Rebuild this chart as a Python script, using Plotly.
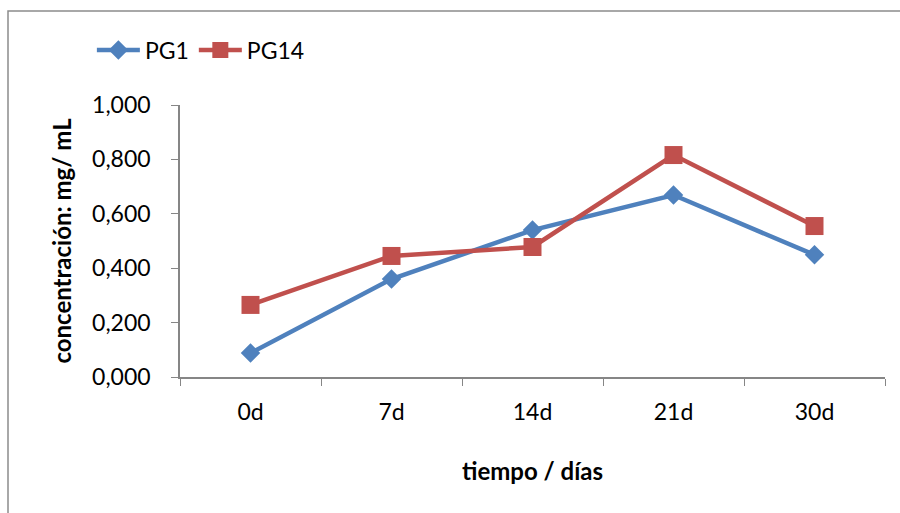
import plotly.graph_objects as go

categories = ["0d", "7d", "14d", "21d", "30d"]
pg1 = [0.088, 0.360, 0.540, 0.669, 0.449]
pg14 = [0.265, 0.445, 0.478, 0.816, 0.555]
y_ticks = [0, 0.2, 0.4, 0.6, 0.8, 1.0]

FONT = "Lato"
fig = go.Figure()
fig.add_trace(go.Scatter(x=categories, y=pg1, name="PG1", mode="lines+markers",
                         line=dict(color="#4F81BD", width=4.5),
                         marker=dict(symbol="diamond", size=15, color="#4F81BD")))
fig.add_trace(go.Scatter(x=categories, y=pg14, name="PG14", mode="lines+markers",
                         line=dict(color="#C0504D", width=4.5),
                         marker=dict(symbol="square", size=18, color="#C0504D")))

fig.update_layout(
    width=900, height=513,
    margin=dict(l=180, r=15, t=105, b=136),
    paper_bgcolor="white", plot_bgcolor="white",
    separators=",.",
    font=dict(family=FONT, size=23, color="black"),
    showlegend=True,
    legend=dict(orientation="h", x=-0.125, y=1.202, xanchor="left", yanchor="middle",
                font=dict(size=23), bgcolor="rgba(0,0,0,0)", itemwidth=43,
                tracegroupgap=0),
    xaxis=dict(type="category", range=[-0.5, 4.5], showline=True, linecolor="#868686",
               linewidth=1.5, ticks="outside", tickson="boundaries", ticklen=7,
               tickcolor="#868686", showgrid=False, zeroline=False,
               tickfont=dict(size=23), ticklabelstandoff=14,
               title=dict(text="<b>tiempo / días</b>", font=dict(size=24), standoff=39)),
    yaxis=dict(range=[0, 1.0], tickvals=y_ticks, tickformat=".3f", showline=True,
               linecolor="#868686", linewidth=1.5, ticks="outside", ticklen=7,
               tickcolor="#868686", showgrid=False, zeroline=False,
               tickfont=dict(size=23), ticklabelstandoff=16,
               title=dict(text="<b>concentración: mg/ mL</b>", font=dict(size=24), standoff=14)),
    shapes=[dict(type="rect", xref="paper", yref="paper",
                 x0=(8 - 180) / 705, x1=(910 - 180) / 705,
                 y0=(377 - 530) / 272, y1=(377 - 11) / 272,
                 line=dict(color="#8C8C8C", width=1.5), layer="below")],
)

fig.write_html("out.html")
